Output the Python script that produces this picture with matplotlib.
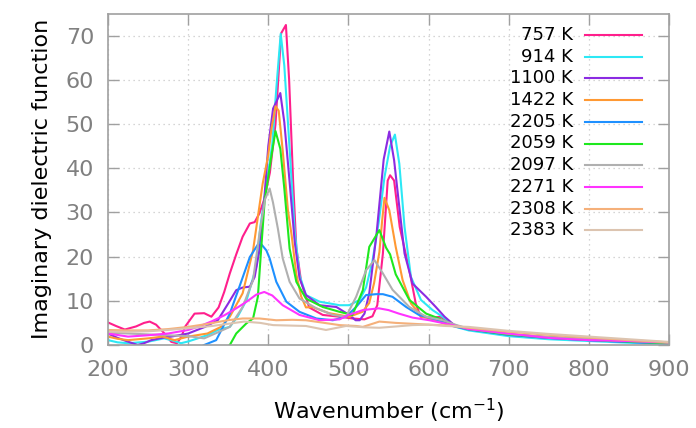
import matplotlib
matplotlib.use("Agg")
import matplotlib.pyplot as plt
from matplotlib.ticker import MultipleLocator

# wavenumber (cm^-1) and imaginary dielectric function
wn_757 = [200, 210, 221, 235, 245, 252, 260, 270, 279, 286, 292, 296, 308, 320, 329, 338, 345, 352, 360, 368, 377, 383, 389, 395, 402, 409, 416, 422, 426, 431, 435, 441, 451, 468, 489, 505, 520, 530, 536, 543, 549, 552, 557, 564, 576, 584, 590, 605, 615, 622, 635, 650, 700, 750, 800, 850, 900]
eps_757 = [5.1, 4.3, 3.5, 4.2, 5.0, 5.3, 4.6, 2.7, 0.7, 0.4, 2.0, 4.1, 7.1, 7.2, 6.4, 8.5, 12.0, 16.2, 20.5, 24.5, 27.5, 27.8, 29.8, 33.0, 39.0, 50.0, 70.5, 72.4, 60.0, 37.0, 22.0, 14.3, 8.5, 6.8, 6.4, 6.0, 5.8, 6.5, 9.0, 20.7, 37.2, 38.4, 37.2, 26.7, 16.9, 9.4, 6.4, 6.2, 6.4, 5.6, 4.2, 3.5, 2.4, 1.8, 1.3, 0.9, 0.5]

wn_914 = [200, 212, 225, 250, 270, 281, 291, 300, 312, 325, 337, 352, 362, 373, 385, 390, 398, 405, 410, 415.5, 420, 426.6, 433, 439, 447, 464, 489, 501, 514, 522, 530, 538, 545, 552, 558, 563.5, 570, 578, 590.5, 605, 617.5, 634, 650, 700, 750, 800, 850, 900]
eps_914 = [1.1, 0.6, 0.4, 0.75, 1.5, 1.0, 0.4, 0.8, 1.5, 2.3, 3.4, 4.1, 6.5, 10.2, 17.7, 26.7, 36.5, 45.5, 58.0, 70.4, 63.2, 44.4, 25.6, 15.8, 11.3, 9.8, 9.0, 9.0, 10.2, 13.0, 19.0, 28.0, 38.0, 45.0, 47.6, 41.0, 26.7, 15.4, 10.2, 7.9, 6.4, 4.1, 3.3, 2.0, 1.3, 0.9, 0.5, 0.2]

wn_1100 = [200, 212, 225, 237, 245, 254, 267, 279, 300, 321, 337, 350, 360, 368, 377, 383, 389, 395, 400, 406, 410, 415, 420, 426.6, 433, 439, 447, 464, 485, 501, 509, 514, 520, 526, 535, 544, 551, 557, 563.5, 570, 580, 597, 609, 620, 632, 650, 700, 750, 800, 850, 900]
eps_1100 = [2.6, 1.6, 0.75, 0.0, 0.4, 1.1, 1.6, 1.9, 2.6, 4.1, 5.6, 9.4, 12.4, 13.0, 13.2, 15.4, 21.4, 33.0, 45.0, 53.5, 55.0, 57.0, 50.4, 36.9, 23.3, 15.1, 11.3, 9.0, 8.6, 6.8, 5.6, 5.6, 7.1, 11.7, 25.0, 42.0, 48.3, 41.8, 31.2, 20.7, 13.9, 10.9, 8.6, 6.4, 4.5, 3.6, 2.3, 1.6, 1.1, 0.7, 0.4]

wn_1422 = [200, 212, 225, 250, 268, 283, 300, 324, 341, 352, 368, 381, 387, 393, 400, 404, 409, 413, 418, 424.5, 429, 435, 441, 447, 455, 476, 501, 517.5, 526, 532, 538.6, 542, 545, 551, 559, 567.6, 578, 592, 609, 625, 650, 700, 750, 800, 850, 900]
eps_1422 = [1.9, 1.4, 1.1, 1.5, 1.9, 1.1, 1.9, 2.6, 4.1, 6.4, 11.7, 21.4, 29.0, 36.5, 43.0, 49.0, 54.0, 53.0, 44.0, 30.5, 25.0, 16.0, 11.0, 8.5, 8.6, 7.2, 6.4, 7.5, 9.5, 14.0, 21.0, 28.0, 33.3, 30.5, 22.2, 14.7, 9.4, 6.4, 5.6, 4.5, 3.6, 2.4, 1.7, 1.2, 0.8, 0.4]

wn_2205 = [300, 320, 335, 352, 364, 377, 389, 397.6, 401.7, 410, 422.5, 439, 460, 480.5, 497, 509.6, 522, 534.5, 543, 555, 572, 588, 613, 630, 650, 700, 750, 800, 850, 900]
eps_2205 = [-2.0, 0.0, 1.1, 7.1, 13.2, 19.9, 23.3, 21.4, 19.6, 14.3, 9.8, 7.5, 6.0, 5.6, 6.4, 8.6, 11.3, 11.5, 11.5, 10.9, 8.6, 6.8, 5.6, 4.3, 3.5, 2.3, 1.6, 1.1, 0.7, 0.3]

wn_2059 = [330, 352, 360, 372.7, 381, 387, 391, 395.5, 404, 409, 415, 420, 426.6, 435, 447, 468, 489, 505, 518, 526, 538.6, 547, 552, 559, 576, 597, 613, 630, 650, 700, 750, 800, 850, 900]
eps_2059 = [-3.0, 0.0, 2.6, 4.9, 6.0, 10.9, 21.4, 32.7, 42.9, 48.4, 44.4, 35.4, 21.8, 14.3, 10.5, 8.6, 7.5, 6.8, 12.4, 22.2, 26.0, 22.0, 20.5, 16.0, 10.2, 7.1, 6.0, 4.6, 3.6, 2.4, 1.7, 1.2, 0.8, 0.4]

wn_2097 = [200, 250, 300, 320, 335, 352, 368, 381, 389, 396, 401.7, 405.8, 412, 418, 426.6, 439, 460, 480.5, 497, 509.6, 522, 532.5, 543, 555, 576, 597, 617.5, 635, 650, 700, 750, 800, 850, 900]
eps_2097 = [2.8, 2.4, 2.0, 1.5, 2.7, 4.1, 8.6, 14.7, 25.2, 33.0, 35.4, 32.3, 26.3, 19.6, 14.3, 10.5, 8.3, 6.8, 6.4, 10.9, 16.9, 19.2, 16.2, 12.5, 8.6, 6.4, 5.6, 4.5, 3.7, 2.5, 1.8, 1.3, 0.9, 0.5]

wn_2271 = [200, 225, 250, 275, 300, 315, 330, 345, 360, 373, 385, 395, 405, 418, 439, 464, 489, 500, 518, 538, 550, 563, 580, 601, 630, 650, 700, 750, 800, 850, 900]
eps_2271 = [2.6, 1.9, 2.2, 2.6, 3.4, 4.3, 5.4, 6.7, 8.3, 9.8, 11.4, 12.0, 11.2, 9.0, 6.8, 5.6, 5.8, 6.8, 7.9, 8.3, 7.9, 7.1, 6.2, 5.6, 4.5, 3.6, 2.6, 1.6, 1.1, 0.9, 0.6]

wn_2308 = [200, 225, 250, 275, 300, 325, 349, 368, 389, 410, 430, 447, 470, 489, 510, 518, 530, 538.6, 559, 580, 601, 625, 650, 700, 750, 800, 850, 900]
eps_2308 = [3.4, 3.3, 3.3, 3.6, 4.1, 4.8, 5.6, 6.0, 6.0, 5.6, 5.7, 5.6, 5.0, 4.5, 4.3, 4.1, 4.8, 5.3, 5.0, 4.8, 4.6, 4.4, 3.9, 3.0, 2.3, 1.7, 1.1, 0.6]

wn_2383 = [200, 225, 250, 275, 300, 330, 350, 370, 390, 406, 447, 472, 497, 520, 538.6, 560, 580, 600, 622, 650, 700, 750, 800, 850, 900]
eps_2383 = [3.0, 3.0, 3.1, 3.4, 3.8, 4.3, 4.8, 5.3, 5.0, 4.5, 4.3, 3.4, 4.3, 4.0, 3.9, 4.2, 4.5, 4.6, 4.3, 4.1, 3.2, 2.5, 1.9, 1.3, 0.7]

labels = ["757 K", "914 K", "1100 K", "1422 K", "2205 K", "2059 K", "2097 K", "2271 K", "2308 K", "2383 K"]
colors = ["#ff1f8c", "#2ce8f5", "#8b2be2", "#ff9933", "#1e90ff", "#1ee81e", "#b0b0b0", "#ff33ff", "#f5b07a", "#dcc4b0"]
series = [(wn_757, eps_757), (wn_914, eps_914), (wn_1100, eps_1100), (wn_1422, eps_1422),
          (wn_2205, eps_2205), (wn_2059, eps_2059), (wn_2097, eps_2097), (wn_2271, eps_2271),
          (wn_2308, eps_2308), (wn_2383, eps_2383)]

border = "#a0a0a0"
ticklab = "#808080"

fig = plt.figure(figsize=(6.96, 4.28), dpi=100)
ax = fig.add_axes([108 / 696, 1 - 345 / 428, 561 / 696, 331.5 / 428])

for (x, y), c in zip(series, colors):
    ax.plot(x, y, color=c, lw=1.5, solid_joinstyle="round")

ax.set_xlim(200, 900)
ax.set_ylim(0, 75)
ax.xaxis.set_major_locator(MultipleLocator(100))
ax.yaxis.set_major_locator(MultipleLocator(10))
ax.grid(True, color="#c8c8c8", linestyle=(0, (1, 3)), linewidth=0.9)
ax.set_axisbelow(True)

for s in ax.spines.values():
    s.set_color(border)
    s.set_linewidth(1.2)
ax.tick_params(which="major", direction="in", length=8, width=1.0, color=border,
               top=True, right=True, labelsize=16, labelcolor=ticklab)
ax.tick_params(axis="x", pad=11)
ax.tick_params(axis="y", pad=10)

ax.set_xlabel("Wavenumber (cm$^{-1}$)", fontsize=16, labelpad=12)
ax.set_ylabel("Imaginary dielectric function", fontsize=16, labelpad=10)

# key in gnuplot style: right-aligned text, sample line after it
row0, step = 35.0, 21.7
for i, (lab, c) in enumerate(zip(labels, colors)):
    yy = (345 - (row0 + i * step)) / 331.5
    ax.text((573 - 108) / 561, yy, lab, transform=ax.transAxes, ha="right", va="center", fontsize=13)
    ax.plot([(585 - 108) / 561, (642 - 108) / 561], [yy, yy], transform=ax.transAxes, color=c, lw=1.5)

fig.savefig("out.png", dpi=100)
